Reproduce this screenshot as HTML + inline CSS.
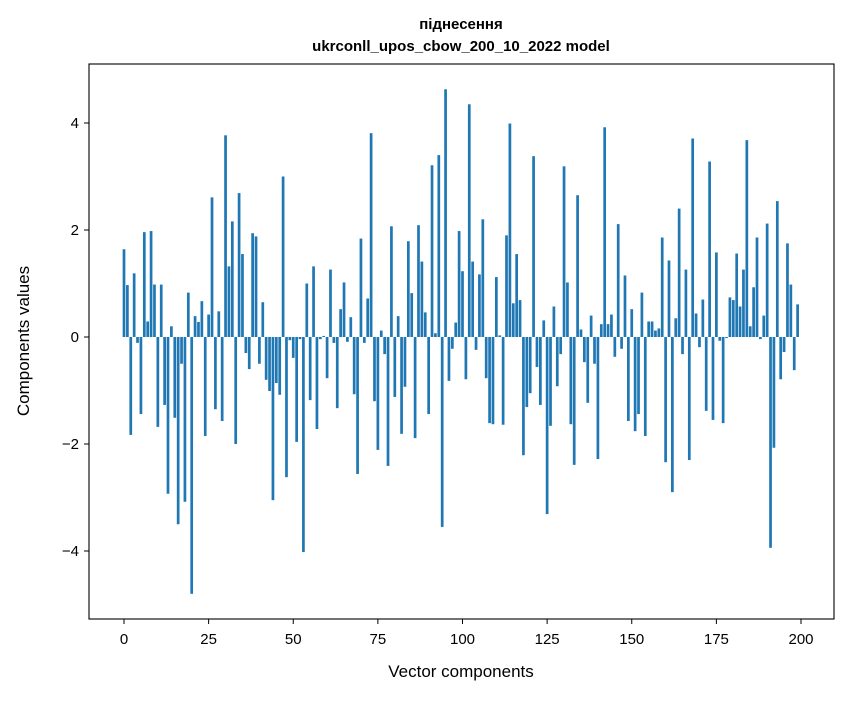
<!DOCTYPE html>
<html><head><meta charset="utf-8"><style>
body{margin:0;background:#fff;}
svg{font-family:"Liberation Sans","DejaVu Sans",sans-serif;}
</style></head><body>
<svg id="chart" width="847" height="696" xmlns="http://www.w3.org/2000/svg">
<rect width="847" height="696" fill="#fff"/>
<text x="461" y="29" text-anchor="middle" font-size="15" font-weight="bold">піднесення</text>
<text x="461" y="51" text-anchor="middle" font-size="15" font-weight="bold">ukrconll_upos_cbow_200_10_2022 model</text>
<g id="bars"></g>
<g id="axes"></g>
<rect x="89" y="64" width="745" height="555" fill="none" stroke="#000" stroke-width="1.1"/>
<text x="461" y="677" text-anchor="middle" font-size="17">Vector components</text>
<text transform="translate(29,341) rotate(-90)" text-anchor="middle" font-size="17">Components values</text>
</svg>
<script>
const values = [1.64,0.97,-1.83,1.19,-0.11,-1.44,1.96,0.29,1.98,0.98,
-1.68,0.98,-1.27,-2.93,0.2,-1.51,-3.5,-0.5,-3.08,0.83,
-4.8,0.39,0.28,0.67,-1.85,0.42,2.61,-1.35,0.48,-1.57,
3.77,1.32,2.16,-2.0,2.69,1.55,-0.3,-0.6,1.94,1.88,
-0.5,0.65,-0.8,-1.01,-3.05,-0.86,-1.08,3.0,-2.62,-0.06,
-0.39,-1.96,-0.04,-4.02,1.0,-1.18,1.32,-1.72,-0.04,0.02,
-0.77,1.26,-0.11,-1.33,0.52,1.02,-0.09,0.37,-1.07,-2.56,
1.84,-0.11,0.72,3.81,-1.2,-2.11,0.12,-0.32,-2.41,2.07,
-1.12,0.39,-1.81,-0.93,1.79,0.82,-1.89,2.09,1.41,0.46,
-1.44,3.21,0.07,3.4,-3.55,4.63,-0.82,-0.22,0.27,1.98,
1.23,-0.79,4.35,1.41,-0.24,1.17,2.2,-0.77,-1.61,-1.63,
1.12,0.03,-1.64,1.9,3.99,0.63,1.55,0.69,-2.21,-1.31,
-1.05,3.38,-0.56,-1.27,0.31,-3.31,-1.66,0.57,-0.92,-0.32,
3.19,1.02,-1.63,-2.39,2.65,0.14,-0.47,-1.23,0.4,-0.5,
-2.28,0.24,3.92,0.24,0.42,-0.37,2.11,-0.22,1.15,-1.57,
0.52,-1.76,-1.44,0.83,-1.85,0.29,0.29,0.12,0.16,1.86,
-2.34,1.43,-2.9,0.35,2.4,-0.32,1.26,-2.3,3.71,0.44,
-0.19,0.7,-1.38,3.28,-1.55,1.58,-0.07,-1.61,-0.02,0.74,
0.69,1.56,0.57,1.26,3.68,0.2,0.93,1.86,-0.04,0.4,
2.12,-3.94,-2.07,2.54,-0.79,-0.28,1.75,0.98,-0.62,0.61];
const xTicks = [0,25,50,75,100,125,150,175,200];
const yTicks = [-4,-2,0,2,4];

const NS="http://www.w3.org/2000/svg";
const X = v => 124 + v*3.385;
const Y = v => 337 - v*53.5;
const bars=document.getElementById('bars');
values.forEach((v,i)=>{
  const r=document.createElementNS(NS,'rect');
  const y0=Math.min(Y(0),Y(v)), h=Math.abs(Y(v)-Y(0));
  r.setAttribute('x',X(i-0.4));
  r.setAttribute('y',y0);
  r.setAttribute('width',0.8*3.385);
  r.setAttribute('height',h);
  r.setAttribute('fill','#1f77b4');
  
  
  bars.appendChild(r);
});
const axes=document.getElementById('axes');
xTicks.forEach(t=>{
  const l=document.createElementNS(NS,'line');
  l.setAttribute('x1',X(t));l.setAttribute('x2',X(t));
  l.setAttribute('y1',619);l.setAttribute('y2',624);
  l.setAttribute('stroke','#000');
  
  
  axes.appendChild(l);
  const tx=document.createElementNS(NS,'text');
  tx.setAttribute('x',X(t));tx.setAttribute('y',644);
  tx.setAttribute('text-anchor','middle');tx.setAttribute('font-size','15');
  tx.textContent=t;
  
  
  axes.appendChild(tx);
});
yTicks.forEach(t=>{
  const l=document.createElementNS(NS,'line');
  l.setAttribute('x1',84);l.setAttribute('x2',89);
  l.setAttribute('y1',Y(t));l.setAttribute('y2',Y(t));
  l.setAttribute('stroke','#000');
  
  
  axes.appendChild(l);
  const tx=document.createElementNS(NS,'text');
  tx.setAttribute('x',79);tx.setAttribute('y',Y(t)+5);
  tx.setAttribute('text-anchor','end');tx.setAttribute('font-size','15');
  tx.textContent=(t<0?'\u2212'+Math.abs(t):t);
  
  
  axes.appendChild(tx);
});
</script>
</body></html>
